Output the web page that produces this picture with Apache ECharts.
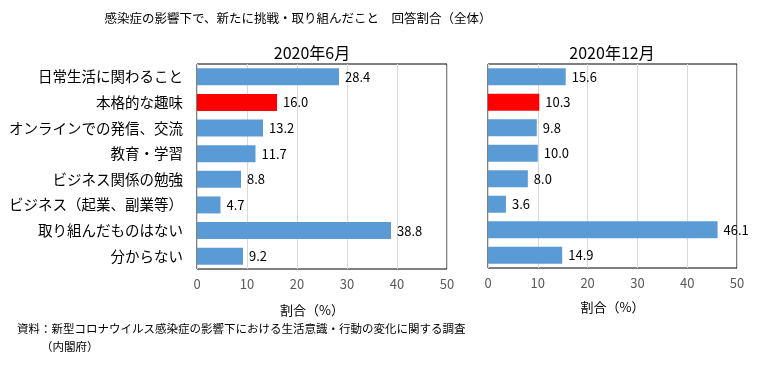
<!DOCTYPE html>
<html>
<head>
<meta charset="utf-8">
<script src="https://cdn.jsdelivr.net/npm/echarts@6/dist/echarts.min.js"></script>
<style>
  html, body { margin: 0; padding: 0; background: #fff; }
  #chart { width: 761px; height: 376px; }
</style>
</head>
<body>
<div id="chart"></div>
<script>
// 項目
var categories = ['日常生活に関わること', '本格的な趣味', 'オンラインでの発信、交流', '教育・学習',
  'ビジネス関係の勉強', 'ビジネス（起業、副業等）', '取り組んだものはない', '分からない'];
var periods = ['2020年6月', '2020年12月'];
var juneValues = [28.4, 16.0, 13.2, 11.7, 8.8, 4.7, 38.8, 9.2];
var decValues = [15.6, 10.3, 9.8, 10.0, 8.0, 3.6, 46.1, 14.9];
var xTicks = [0, 10, 20, 30, 40, 50];
var highlightIndex = 1; // 本格的な趣味 は赤

var FONT = '"Noto Sans CJK JP", "Noto Sans", sans-serif';
var chart = echarts.init(document.getElementById('chart'));

function barData(values) {
  return values.map(function (v, i) {
    return {
      value: v,
      itemStyle: { color: i === highlightIndex ? '#FF0000' : '#5B9BD5' }
    };
  });
}

function xAxisOf(gridIndex, namePad, nameGap) {
  return {
    gridIndex: gridIndex,
    type: 'value',
    min: xTicks[0],
    max: xTicks[xTicks.length - 1],
    interval: xTicks[1] - xTicks[0],
    name: '割合（%）',
    nameLocation: 'middle',
    nameGap: nameGap,
    nameTextStyle: { color: '#000', fontSize: 13, fontFamily: FONT, padding: namePad },
    axisLine: { show: false },
    axisTick: { show: false },
    axisLabel: { color: '#595959', fontSize: 13, margin: 9, fontFamily: FONT },
    splitLine: { show: true, lineStyle: { color: '#d9d9d9', width: 1 } }
  };
}

function yAxisOf(gridIndex, showLabel) {
  return {
    gridIndex: gridIndex,
    type: 'category',
    inverse: true,
    data: categories,
    axisLine: { show: false },
    axisTick: { show: false },
    axisLabel: { show: showLabel, color: '#000', fontSize: 14.5, margin: 14, fontFamily: FONT }
  };
}

function seriesOf(idx, values) {
  return {
    type: 'bar',
    xAxisIndex: idx,
    yAxisIndex: idx,
    barWidth: 17,
    data: barData(values),
    label: {
      show: true,
      position: 'right',
      distance: 6,
      color: '#000',
      fontSize: 13,
      fontFamily: FONT,
      formatter: function (p) { return p.value.toFixed(1); }
    },
    z: 3
  };
}

var option = {
  backgroundColor: '#fff',
  animation: false,
  title: [
    {
      text: '感染症の影響下で、新たに挑戦・取り組んだこと　回答割合（全体）',
      left: 293, top: 7, textAlign: 'center',
      textStyle: { fontSize: 12.5, fontWeight: 'normal', color: '#000', fontFamily: FONT }
    },
    {
      text: periods[0], left: 307, top: 40, textAlign: 'center',
      textStyle: { fontSize: 16, fontWeight: 'normal', color: '#000', fontFamily: FONT }
    },
    {
      text: periods[1], left: 607, top: 40, textAlign: 'center',
      textStyle: { fontSize: 16, fontWeight: 'normal', color: '#000', fontFamily: FONT }
    },
    {
      text: '資料：新型コロナウイルス感染症の影響下における生活意識・行動の変化に関する調査',
      left: 12, top: 318,
      textStyle: { fontSize: 11.5, fontWeight: 'normal', color: '#000', fontFamily: FONT }
    },
    {
      text: '（内閣府）',
      left: 36, top: 336,
      textStyle: { fontSize: 11.5, fontWeight: 'normal', color: '#000', fontFamily: FONT }
    }
  ],
  grid: [
    { left: 197, right: 314, top: 64, bottom: 107, show: true, borderColor: '#000', borderWidth: 1, backgroundColor: 'transparent' },
    { left: 488, right: 24, top: 64, bottom: 108, show: true, borderColor: '#000', borderWidth: 1, backgroundColor: 'transparent' }
  ],
  xAxis: [xAxisOf(0, [0, 20, 0, 0], 35), xAxisOf(1, [0, 0, 0, 0], 33)],
  yAxis: [yAxisOf(0, true), yAxisOf(1, false)],
  series: [seriesOf(0, juneValues), seriesOf(1, decValues)]
};

chart.setOption(option);
</script>
</body>
</html>
